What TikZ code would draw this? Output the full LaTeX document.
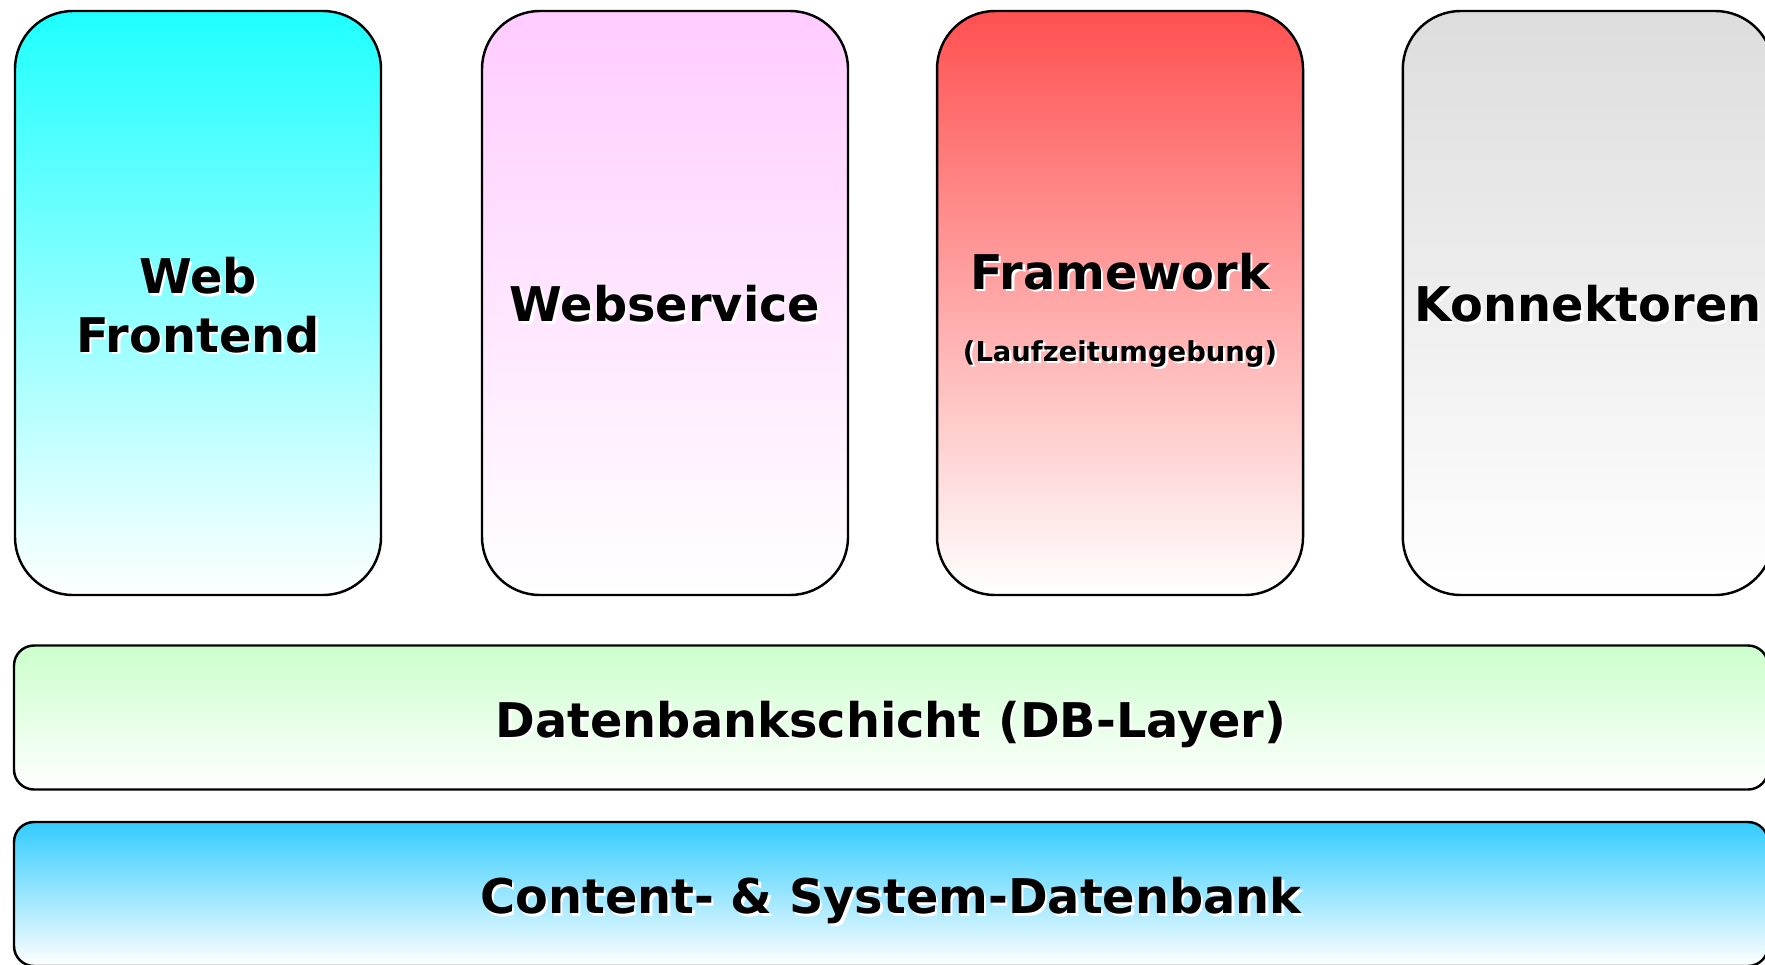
\documentclass[tikz,border=0pt]{standalone}
\usepackage{fontspec}
\setmainfont{DejaVu Sans}
\usepackage{tikz}
\usetikzlibrary{positioning, shadings}
\usepackage{xcolor}
\definecolor{cCyan}{RGB}{30,255,255}
\definecolor{cPink}{RGB}{255,204,255}
\definecolor{cRed}{RGB}{255,80,80}
\definecolor{cGray}{RGB}{221,221,221}
\definecolor{cGreen}{RGB}{204,255,204}
\definecolor{cSky}{RGB}{51,204,255}
% text with a small white shadow
\newcommand{\shtxt}[1]{\rlap{\kern0.7pt\raisebox{-0.7pt}{\color{white}#1}}#1}
\tikzset{
  basebox/.style={rectangle, draw=black, line width=0.7pt, align=center,
                  font=\fontsize{13.6}{16.6}\selectfont\bfseries},
  grad/.style={top color=#1, bottom color=white},
  tallbox/.style={basebox, rounded corners=0.58cm, minimum width=3.66cm,
                  minimum height=5.84cm, text height=11.6pt},
  layerbox/.style={basebox, rounded corners=0.2cm, minimum width=17.54cm,
                   minimum height=1.44cm, text height=15pt}
}

\begin{document}
\begin{tikzpicture}
  \useasboundingbox (0,0) rectangle (17.65,-9.64);

  % Top row
  \node[tallbox, grad=cCyan, text height=28.8pt] (web) at (1.98,-3.03) {\shtxt{Web}\\\shtxt{Frontend}};
  \node[tallbox, grad=cPink] (websvc) at (6.65,-3.03) {\shtxt{Webservice}};
  \node[tallbox, grad=cRed, text height=35.4pt] (frame) at (11.20,-3.03)
    {\shtxt{Framework}\\[3.8pt]{\fontsize{7.8}{9.4}\selectfont\shtxt{(Laufzeitumgebung)}}};
  \node[tallbox, grad=cGray] (konn) at (15.88,-3.03) {\shtxt{Konnektoren}};

  % Layers
  \node[layerbox, grad=cGreen] (dblayer) at (8.91,-7.175) {\shtxt{Datenbankschicht (DB-Layer)}};
  \node[layerbox, grad=cSky] (content) at (8.91,-8.94) {\shtxt{Content- \& System-Datenbank}};
\end{tikzpicture}
\end{document}
